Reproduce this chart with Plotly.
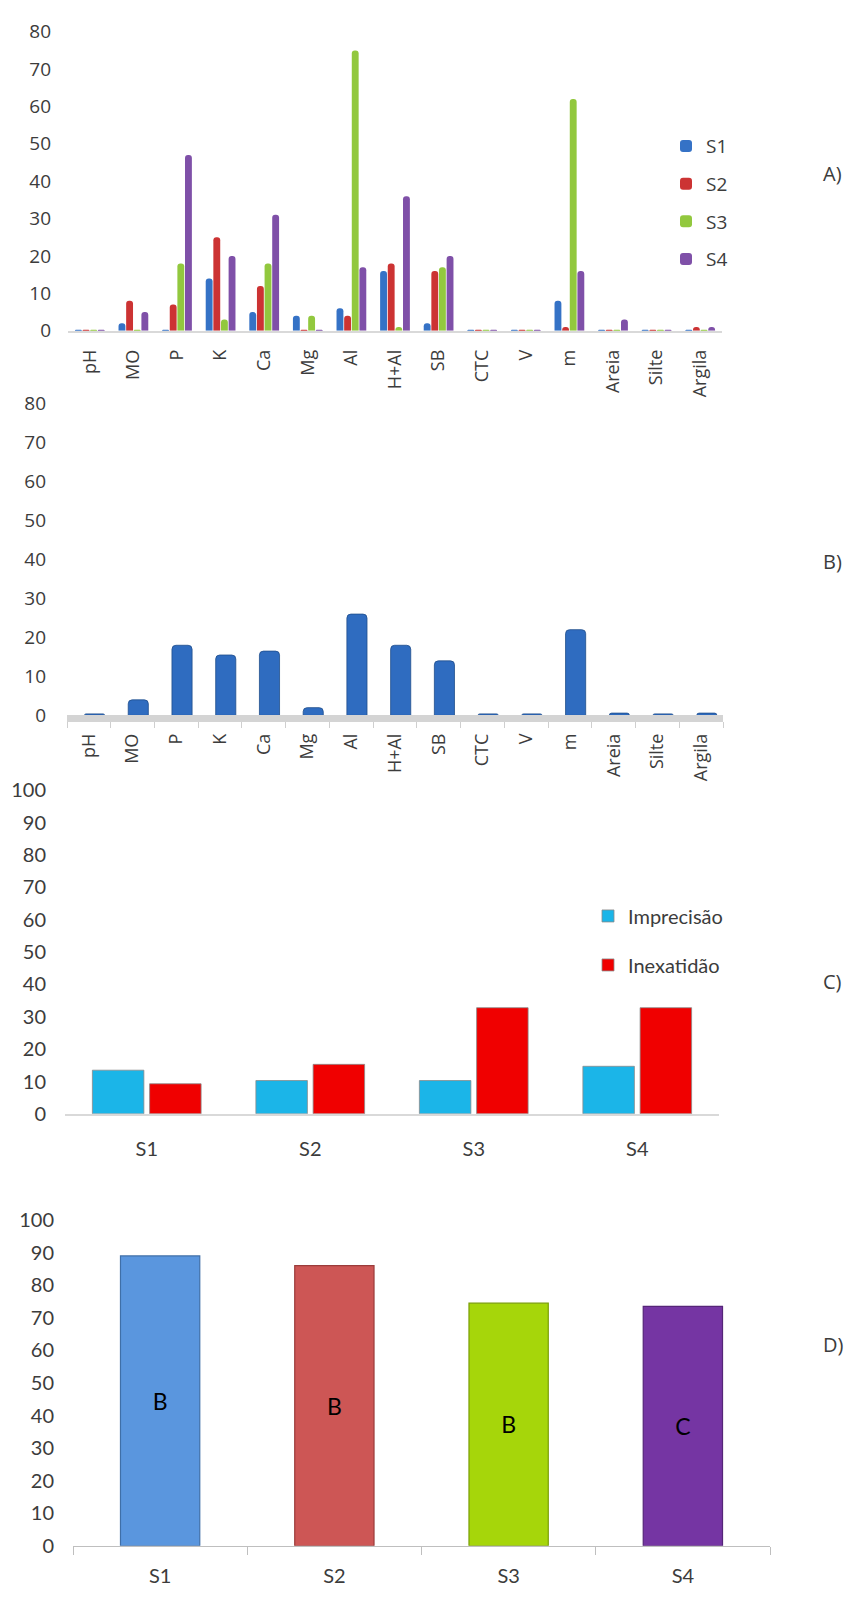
import plotly.graph_objects as go

W, H = 844, 1605

# ---------------- data ----------------
params = ["pH", "MO", "P", "K", "Ca", "Mg", "Al", "H+Al", "SB", "CTC", "V", "m", "Areia", "Silte", "Argila"]

a_s1 = [0.3, 2, 0.3, 14, 5, 4, 6, 16, 2, 0.3, 0.3, 8, 0.3, 0.3, 0.3]
a_s2 = [0.3, 8, 7, 25, 12, 0.3, 4, 18, 16, 0.3, 0.3, 1, 0.3, 0.3, 1]
a_s3 = [0.3, 0.3, 18, 3, 18, 4, 75, 1, 17, 0.3, 0.3, 62, 0.3, 0.3, 0.3]
a_s4 = [0.3, 5, 47, 20, 31, 0.3, 17, 36, 20, 0.3, 0.3, 16, 3, 0.3, 1]
a_names = ["S1", "S2", "S3", "S4"]

b_vals = [0.4, 4, 18, 15.5, 16.5, 2, 26, 18, 14, 0.4, 0.4, 22, 0.6, 0.4, 0.6]

sites = ["S1", "S2", "S3", "S4"]
c_imprecisao = [13.5, 10.3, 10.3, 14.7]
c_inexatidao = [9.3, 15.3, 32.8, 32.8]

d_vals = [89, 86, 74.5, 73.5]
d_labels = ["B", "B", "B", "C"]

# ---------------- style ----------------
a_colors = ["#3572C6", "#CC3333", "#92C83E", "#7F50A8"]
b_color = "#2F6CC0"
c_colors = ["#1BB5E8", "#F00000"]
d_colors = ["#5A96DE", "#CD5655", "#A6D60A", "#7535A3"]
d_lines = ["#3F6FA8", "#9B3C3B", "#7A9E06", "#552578"]

TXT = "#3C3C3C"
F_AB = "Open Sans"
F_CD = "Liberation Sans Narrow, Lato"


def px_dom_x(x0, x1):
    return [x0 / W, x1 / W]


def px_dom_y(ytop, ybot):
    return [1 - ybot / H, 1 - ytop / H]


fig = go.Figure()

# Panel A
for name, vals, col in zip(a_names, [a_s1, a_s2, a_s3, a_s4], a_colors):
    fig.add_trace(go.Bar(
        x=params, y=vals, name=name, xaxis="x", yaxis="y",
        marker=dict(color=col, cornerradius=3, line=dict(width=0)),
        legend="legend", legendgroup=name,
    ))

# Panel B
fig.add_trace(go.Bar(
    x=params, y=b_vals, xaxis="x2", yaxis="y2", showlegend=False,
    width=0.46, offset=-0.1,
    marker=dict(color=b_color, cornerradius=4, line=dict(width=0.8, color="#1F4E8C")),
))

# Panel C
for name, vals, col in zip(["Imprecisão", "Inexatidão"], [c_imprecisao, c_inexatidao], c_colors):
    fig.add_trace(go.Bar(
        x=sites, y=vals, name=name, xaxis="x3", yaxis="y3",
        marker=dict(color=col, line=dict(width=0.8, color="#8A8A8A")),
        legend="legend2", legendgroup=name,
    ))

# Panel D
fig.add_trace(go.Bar(
    x=sites, y=d_vals, xaxis="x4", yaxis="y4", showlegend=False,
    width=0.455, text=d_labels, textposition="inside", insidetextanchor="middle",
    textangle=0,
    textfont=dict(family=F_CD, size=23, color="#000000"),
    marker=dict(color=d_colors, line=dict(width=1.2, color=d_lines)),
))

common_y = dict(showgrid=False, zeroline=False, showline=False, ticks="")

fig.update_layout(
    width=W, height=H, margin=dict(l=0, r=0, t=0, b=0),
    paper_bgcolor="white", plot_bgcolor="white",
    barmode="group", bargap=0.30, bargroupgap=0.1,
    font=dict(family=F_AB, color=TXT),
    xaxis=dict(domain=px_dom_x(68, 722), anchor="y", type="category",
               showline=True, linecolor="#D9D9D9", linewidth=1.5, showgrid=False,
               tickangle=-90, tickfont=dict(family=F_AB, size=18, color=TXT),
               ticklabelstandoff=10),
    yaxis=dict(domain=px_dom_y(19, 323), anchor="x", range=[0, 80], tickvals=list(range(0, 81, 10)),
               tickfont=dict(family=F_AB, size=19, color=TXT), ticklabelstandoff=16, **common_y),
    xaxis2=dict(domain=px_dom_x(67, 723), anchor="y2", type="category",
                showline=True, linecolor="#D4D4D4", linewidth=7, showgrid=False,
                ticks="outside", tickson="boundaries", ticklen=6, tickcolor="#CFCFCF",
                tickangle=-90, tickfont=dict(family=F_AB, size=18, color=TXT),
                ticklabelstandoff=4),
    yaxis2=dict(domain=px_dom_y(397, 714), anchor="x2", range=[0, 80], tickvals=list(range(0, 81, 10)),
                tickfont=dict(family=F_AB, size=19, color=TXT), ticklabelstandoff=20, **common_y),
    xaxis3=dict(domain=px_dom_x(65, 719), anchor="y3", type="category",
                showline=True, linecolor="#D9D9D9", linewidth=2, showgrid=False,
                tickfont=dict(family=F_CD, size=20, color=TXT), ticklabelstandoff=16),
    yaxis3=dict(domain=px_dom_y(790, 1119), anchor="x3", range=[0, 100], tickvals=list(range(0, 101, 10)),
                tickfont=dict(family=F_CD, size=20, color=TXT), ticklabelstandoff=18, **common_y),
    xaxis4=dict(domain=px_dom_x(73, 770), anchor="y4", type="category",
                showline=True, linecolor="#BFBFBF", linewidth=1, showgrid=False,
                ticks="outside", tickson="boundaries", ticklen=8, tickcolor="#BFBFBF",
                tickfont=dict(family=F_CD, size=20, color=TXT), ticklabelstandoff=12),
    yaxis4=dict(domain=px_dom_y(1227, 1558), anchor="x4", range=[0, 100], tickvals=list(range(0, 101, 10)),
                tickfont=dict(family=F_CD, size=20, color=TXT), ticklabelstandoff=18, **common_y),
    legend=dict(x=666 / W, xanchor="left", y=1 - 116 / H, yanchor="top",
                font=dict(family=F_AB, size=19, color=TXT), tracegroupgap=10,
                bgcolor="rgba(0,0,0,0)", itemclick=False),
    legend2=dict(x=588 / W, xanchor="left", y=1 - 898 / H, yanchor="top",
                 font=dict(family=F_CD, size=20, color=TXT), tracegroupgap=20,
                 bgcolor="rgba(0,0,0,0)", itemclick=False),
    showlegend=True,
)

panel_tags = [("A)", 163), ("B)", 558), ("C)", 984), ("D)", 1353)]
for tag, ypix in panel_tags:
    fig.add_annotation(text=tag, xref="paper", yref="paper", x=821 / W, y=1 - ypix / H,
                       xanchor="left", yanchor="middle", showarrow=False,
                       font=dict(family=F_AB, size=20, color=TXT))

fig.write_html("out.html")
